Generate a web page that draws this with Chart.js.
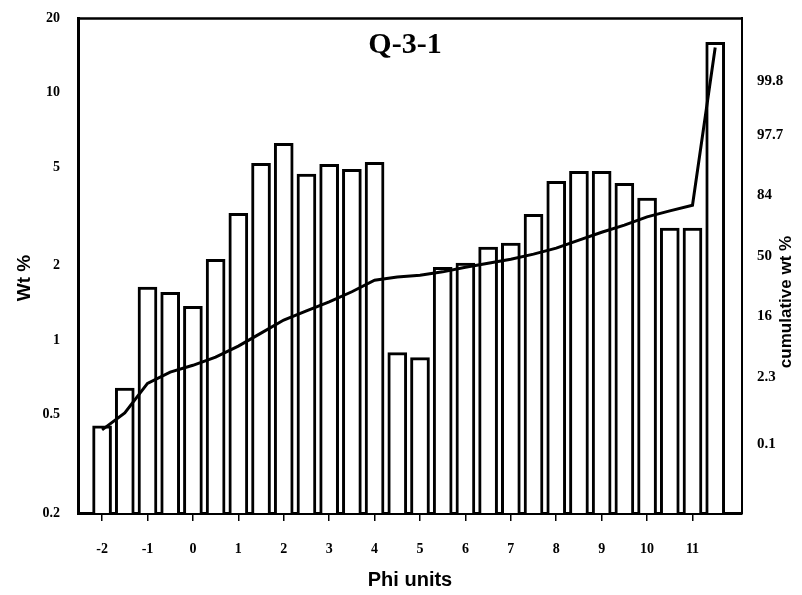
<!DOCTYPE html>
<html>
<head>
<meta charset="utf-8">
<script src="https://cdn.jsdelivr.net/npm/chart.js@4/dist/chart.umd.min.js"></script>
<style>
  html, body { margin: 0; padding: 0; background: #fff; }
  #wrap { width: 802px; height: 595px; }
</style>
</head>
<body>
<div id="wrap"><canvas id="grain" width="802" height="595"></canvas></div>
<script>
const sampleName = 'Q-3-1';

// half-phi size classes
const phi = [-2, -1.5, -1, -0.5, 0, 0.5, 1, 1.5, 2, 2.5, 3, 3.5, 4, 4.5,
  5, 5.5, 6, 6.5, 7, 7.5, 8, 8.5, 9, 9.5, 10, 10.5, 11, 11.5];
// weight percent in each class
const wtPct = [0.45, 0.64, 1.64, 1.56, 1.37, 2.12, 3.26, 5.19, 6.25, 4.69, 5.14, 4.91, 5.24, 0.89,
  0.85, 1.97, 2.05, 2.38, 2.47, 3.23, 4.39, 4.82, 4.82, 4.31, 3.75, 2.84, 2.84, 16.0];
// cumulative weight percent
const cumPct = [0.21, 0.49, 1.8, 2.8, 3.6, 4.8, 6.9, 10.2, 14.6, 18.3, 22.5, 27.8, 34.5, 36.4,
  37.6, 39.7, 42.7, 45.3, 47.9, 51.2, 55.1, 60.3, 65.2, 69.4, 74.0, 77.1, 79.8, 99.97];

const phiTicks = [-2, -1, 0, 1, 2, 3, 4, 5, 6, 7, 8, 9, 10, 11];
const wtTicks = [0.2, 0.5, 1, 2, 5, 10, 20];
const cumTicks = [0.1, 2.3, 16, 50, 84, 97.7, 99.8];

// inverse normal CDF (Acklam) for the probability axis
function probit(p) {
  const a = [-39.69683028665376, 220.9460984245205, -275.9285104469687, 138.3577518672690, -30.66479806614716, 2.506628277459239];
  const b = [-54.47609879822406, 161.5858368580409, -155.6989798598866, 66.80131188771972, -13.28068155288572];
  const c = [-0.007784894002430293, -0.3223964580411365, -2.400758277161838, -2.549732539343734, 4.374664141464968, 2.938163982698783];
  const d = [0.007784695709041462, 0.3224671290700398, 2.445134137142996, 3.754408661907416];
  const lo = 0.02425;
  const tail = q => (((((c[0] * q + c[1]) * q + c[2]) * q + c[3]) * q + c[4]) * q + c[5]) /
    ((((d[0] * q + d[1]) * q + d[2]) * q + d[3]) * q + 1);
  if (p < lo) return tail(Math.sqrt(-2 * Math.log(p)));
  if (p > 1 - lo) return -tail(Math.sqrt(-2 * Math.log(1 - p)));
  const q = p - 0.5, r = q * q;
  return (((((a[0] * r + a[1]) * r + a[2]) * r + a[3]) * r + a[4]) * r + a[5]) * q /
    (((((b[0] * r + b[1]) * r + b[2]) * r + b[3]) * r + b[4]) * r + 1);
}

Chart.defaults.font.family = '"Liberation Serif", serif';
Chart.defaults.color = '#000';

const tickFont = { family: '"Liberation Serif", serif', size: 14, weight: 'bold' };

// frame top edge, sample name and the two rotated axis titles
const decorations = {
  id: 'decorations',
  afterDraw(chart) {
    const { ctx, chartArea: a } = chart;
    ctx.save();
    ctx.strokeStyle = '#000';
    ctx.lineWidth = 2.5;
    ctx.beginPath();
    ctx.moveTo(a.left, a.top);
    ctx.lineTo(a.right, a.top);
    ctx.stroke();

    ctx.fillStyle = '#000';
    ctx.textAlign = 'center';
    ctx.textBaseline = 'middle';
    ctx.font = 'bold 30px "Liberation Serif"';
    ctx.fillText(sampleName, (a.left + a.right) / 2 - 5, a.top + 27);

    ctx.font = 'bold 19px "Liberation Sans"';
    ctx.translate(25, 278);
    ctx.rotate(-Math.PI / 2);
    ctx.fillText('Wt %', 0, 0);
    ctx.restore();

    ctx.save();
    ctx.fillStyle = '#000';
    ctx.textAlign = 'center';
    ctx.textBaseline = 'middle';
    ctx.font = 'bold 17px "Liberation Sans"';
    ctx.translate(786, 302);
    ctx.rotate(-Math.PI / 2);
    ctx.fillText('cumulative wt %', 0, 0);
    ctx.restore();
  }
};

new Chart(document.getElementById('grain'), {
  data: {
    datasets: [
      {
        type: 'line',
        label: 'cumulative',
        data: phi.map((p, i) => ({ x: p, y: probit(cumPct[i] / 100) })),
        yAxisID: 'y2',
        borderColor: '#000',
        borderWidth: 3,
        pointRadius: 0,
        tension: 0,
        order: 0
      },
      {
        type: 'bar',
        label: 'Wt %',
        data: phi.map((p, i) => ({ x: p, y: wtPct[i] })),
        yAxisID: 'y',
        backgroundColor: '#fff',
        borderColor: '#000',
        borderWidth: 3,
        barThickness: 19,
        order: 1
      }
    ]
  },
  options: {
    responsive: false,
    animation: false,
    layout: { padding: { top: 18, left: 0, right: 0, bottom: 0 } },
    plugins: {
      legend: { display: false },
      tooltip: { enabled: false }
    },
    scales: {
      x: {
        type: 'linear',
        offset: false,
        min: -2.53,
        max: 12.09,
        afterBuildTicks: s => { s.ticks = phiTicks.map(v => ({ value: v })); },
        afterFit: s => { s.height = 82; },
        ticks: { font: tickFont, padding: 20, maxRotation: 0, callback: v => String(v) },
        grid: { offset: false, drawOnChartArea: false, drawTicks: true, tickLength: 8, color: '#000', lineWidth: 1.5 },
        border: { display: true, color: '#000', width: 3 },
        title: {
          display: true,
          text: 'Phi units',
          font: { family: '"Liberation Sans", sans-serif', size: 20, weight: 'bold' },
          padding: { top: 0, bottom: 3 }
        }
      },
      y: {
        type: 'logarithmic',
        position: 'left',
        min: 0.2,
        max: 20,
        afterBuildTicks: s => { s.ticks = wtTicks.map(v => ({ value: v })); },
        afterFit: s => { s.width = 78; },
        ticks: { font: tickFont, padding: 10, callback: v => String(v) },
        grid: { display: false },
        border: { display: true, color: '#000', width: 3 }
      },
      y2: {
        type: 'linear',
        position: 'right',
        min: -4.23,
        max: 3.91,
        afterBuildTicks: s => { s.ticks = cumTicks.map(v => ({ value: probit(v / 100) })); },
        afterFit: s => { s.width = 60; },
        ticks: {
          font: { family: '"Liberation Serif", serif', size: 15, weight: 'bold' },
          padding: 7,
          callback: (v, i) => String(cumTicks[i])
        },
        grid: { display: false },
        border: { display: true, color: '#000', width: 2 }
      }
    }
  },
  plugins: [decorations]
});
</script>
</body>
</html>
